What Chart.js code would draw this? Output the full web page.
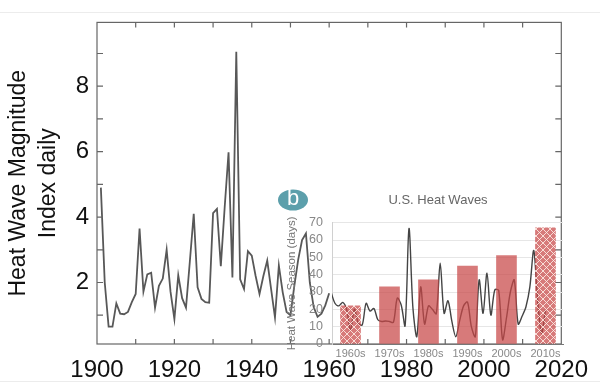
<!DOCTYPE html>
<html>
<head>
<meta charset="utf-8">
<script src="https://cdn.jsdelivr.net/npm/chart.js@4.4.1/dist/chart.umd.min.js"></script>
<style>
  html, body { margin: 0; padding: 0; background: #fff; }
  #wrap { position: relative; width: 600px; height: 391px; overflow: hidden; }
  #main { position: absolute; left: 0; top: 0; }
  #inset { position: absolute; left: 270px; top: 180px; }
  .rule { position: absolute; left: 0; width: 600px; height: 1px; background: #ececec; }
</style>
</head>
<body>
<div id="wrap">
  <div class="rule" style="top:12px"></div>
  <div class="rule" style="top:381px"></div>
  <canvas id="main" width="600" height="391"></canvas>
  <canvas id="inset" width="330" height="211"></canvas>
</div>
<script>
// --- Data: main panel (heat wave magnitude index, daily) ---
const magYears = [1901, 1902, 1903, 1904, 1905, 1906, 1907, 1908, 1909, 1910,
  1911, 1912, 1913, 1914, 1915, 1916, 1917, 1918, 1919, 1920,
  1921, 1922, 1923, 1924, 1925, 1926, 1927, 1928, 1929, 1930,
  1931, 1932, 1933, 1934, 1935, 1936, 1937, 1938, 1939, 1940,
  1941, 1942, 1943, 1944, 1945, 1946, 1947, 1948, 1949, 1950,
  1951, 1952, 1953, 1954, 1955, 1956, 1957, 1958, 1959, 1960];
const magValues = [4.9, 2.0, 0.65, 0.65, 1.36, 1.05, 1.03, 1.1, 1.4, 1.65,
  3.65, 1.72, 2.25, 2.3, 1.23, 1.9, 2.12, 3.0, 1.72, 0.88,
  2.22, 1.52, 1.23, 2.65, 4.1, 1.85, 1.5, 1.4, 1.38, 4.12,
  4.25, 2.5, 4.3, 5.98, 2.15, 9.05, 2.1, 1.8, 2.96, 2.82,
  2.2, 1.65, 2.2, 2.67, 1.8, 0.93, 2.52, 1.7, 1.1, 1.0,
  1.9, 2.7, 3.3, 3.5, 2.0, 1.25, 0.95, 1.05, 1.3, 1.67];
const yearTicks = [1900, 1920, 1940, 1960, 1980, 2000, 2020];
const magTicks = [2, 4, 6, 8];

// --- Data: inset (U.S. heat wave season, days) ---
const seasonYears = [1960, 1961, 1962, 1963, 1964, 1965, 1966, 1967, 1968, 1969,
  1970, 1971, 1972, 1973, 1974, 1975, 1976, 1977, 1978, 1979,
  1980, 1981, 1982, 1983, 1984, 1985, 1986, 1987, 1988, 1989,
  1990, 1991, 1992, 1993, 1994, 1995, 1996, 1997, 1998, 1999,
  2000, 2001, 2002, 2003, 2004, 2005, 2006, 2007, 2008, 2009,
  2010, 2011, 2012, 2013, 2014, 2015];
const seasonDays = [30, 23.5, 22, 24, 20, 8, 20, 12, 11, 23.5,
  19, 20.5, 14, 13, 13.3, 13, 12.5, 26.5, 22.5, 10.5,
  66.7, 21, 4.2, 33, 11.5, 22, 20, 17.5, 46.6, 17.7,
  25, 13, 4.2, 13.5, 22, 24.2, 10, 4.2, 37, 17.7,
  40.8, 16.7, 31.2, 31, 2.5, 15, 30, 37, 11.5, 16,
  21.5, 33, 54, 25, 6.2, 19.6];
const decadeMid = [1965, 1975, 1985, 1995, 2005, 2015];
const decadeLabels = ["1960s", "1970s", "1980s", "1990s", "2000s", "2010s"];
const decadeDays = [22, 33, 37, 45, 51, 67];
const dayTicks = [0, 10, 20, 30, 40, 50, 60, 70];

const FONT = "'Liberation Sans', Arial, Helvetica, sans-serif";

// --- Main panel frame with inward ticks ---
const frame = {
  id: "frame",
  afterDraw(chart) {
    const { ctx, chartArea: a, scales: { x, y } } = chart;
    ctx.save();
    ctx.strokeStyle = "#666";
    ctx.lineWidth = 1.2;
    ctx.strokeRect(a.left, a.top, a.right - a.left, a.bottom - a.top);
    ctx.beginPath();
    for (let yr = 1910; yr < 2020; yr += 10) {
      const px = x.getPixelForValue(yr);
      ctx.moveTo(px, a.bottom); ctx.lineTo(px, a.bottom - 5);
      ctx.moveTo(px, a.top); ctx.lineTo(px, a.top + 5);
    }
    for (let v = 1; v <= 9; v++) {
      const py = y.getPixelForValue(v);
      ctx.moveTo(a.left, py); ctx.lineTo(a.left + 6, py);
      ctx.moveTo(a.right, py); ctx.lineTo(a.right - 6, py);
    }
    ctx.stroke();
    ctx.restore();
  }
};

new Chart(document.getElementById("main"), {
  type: "line",
  data: {
    datasets: [{
      data: magYears.map((yr, i) => ({ x: yr, y: magValues[i] })),
      borderColor: "#585858",
      borderWidth: 1.8,
      pointRadius: 0,
      tension: 0
    }]
  },
  options: {
    responsive: false,
    animation: false,
    events: [],
    layout: { padding: { top: 15, right: 36, left: 0, bottom: 0 } },
    plugins: { legend: { display: false }, tooltip: { enabled: false } },
    scales: {
      x: {
        type: "linear", min: 1900, max: 2020,
        grid: { display: false, drawTicks: false }, border: { display: false },
        afterBuildTicks: s => { s.ticks = yearTicks.map(v => ({ value: v })); },
        afterFit: s => { s.height = 47; },
        ticks: { color: "#111", padding: 12, maxRotation: 0, autoSkip: false,
          font: { family: FONT, size: 24 }, callback: v => String(v) }
      },
      y: {
        min: 0.12, max: 9.95,
        grid: { display: false, drawTicks: false }, border: { display: false },
        afterBuildTicks: s => { s.ticks = magTicks.map(v => ({ value: v })); },
        afterFit: s => { s.width = 97; },
        ticks: { color: "#111", padding: 8, font: { family: FONT, size: 24 } },
        title: {
          display: true, text: ["Heat Wave Magnitude", "Index daily"], color: "#111",
          padding: { top: 4, bottom: 0 }, font: { family: FONT, size: 23, lineHeight: 1.3 }
        }
      }
    }
  },
  plugins: [frame]
});

// --- Inset: hatch pattern for the 1960s and 2010s bars ---
function hatch() {
  const c = document.createElement("canvas");
  c.width = 7; c.height = 7;
  const g = c.getContext("2d");
  g.fillStyle = "rgba(200,70,70,0.72)";
  g.fillRect(0, 0, 7, 7);
  g.strokeStyle = "rgba(255,238,232,0.85)";
  g.lineWidth = 1;
  g.beginPath();
  g.moveTo(0, 0); g.lineTo(7, 7);
  g.moveTo(7, 0); g.lineTo(0, 7);
  g.stroke();
  return g.createPattern(c, "repeat");
}
const hatched = hatch();
const solid = "rgba(200,70,70,0.72)";

// badge "b" and the inset title
const badge = {
  id: "badge",
  afterDraw(chart) {
    const ctx = chart.ctx;
    ctx.save();
    ctx.fillStyle = "#5c9fab";
    ctx.beginPath();
    ctx.ellipse(23, 20, 15, 10.5, 0, 0, Math.PI * 2);
    ctx.fill();
    ctx.fillStyle = "#fff";
    ctx.font = "22px " + FONT;
    ctx.textAlign = "center";
    ctx.textBaseline = "middle";
    ctx.fillText("b", 23, 19);
    ctx.fillStyle = "#666";
    ctx.font = "13px " + FONT;
    ctx.fillText("U.S. Heat Waves", 168, 20);
    ctx.restore();
  }
};

new Chart(document.getElementById("inset"), {
  type: "bar",
  data: {
    datasets: [{
      type: "bar",
      data: decadeMid.map((yr, i) => ({ x: yr, y: decadeDays[i] })),
      backgroundColor: [hatched, solid, solid, solid, solid, hatched],
      borderWidth: 0,
      barThickness: 20,
      order: 1
    }, {
      type: "line",
      data: seasonYears.map((yr, i) => ({ x: yr, y: seasonDays[i] })),
      borderColor: "#444",
      borderWidth: 1.4,
      pointRadius: 0,
      tension: 0.3,
      order: 2
    }]
  },
  options: {
    responsive: false,
    animation: false,
    events: [],
    layout: { padding: { top: 42.7, right: 37, left: 0, bottom: 0 } },
    plugins: { legend: { display: false }, tooltip: { enabled: false } },
    scales: {
      x: {
        type: "linear", min: 1960.25, max: 2019.5, offset: false,
        grid: { display: false, drawTicks: false },
        border: { display: true, color: "#777", width: 1 },
        afterBuildTicks: s => { s.ticks = decadeMid.map(v => ({ value: v })); },
        afterFit: s => { s.height = 47; },
        ticks: { color: "#888", padding: 3, maxRotation: 0, autoSkip: false,
          font: { family: FONT, size: 11 }, callback: (v, i) => decadeLabels[i] }
      },
      y: {
        min: 0, max: 70,
        grid: { color: "#e6e6e6", drawTicks: false },
        border: { display: true, color: "#d0d0d0" },
        afterBuildTicks: s => { s.ticks = dayTicks.map(v => ({ value: v })); },
        afterFit: s => { s.width = 62; },
        ticks: { color: "#888", padding: 9, autoSkip: false, font: { family: FONT, size: 12.5 } },
        title: {
          display: true, text: "Heat Wave Season (days)", color: "#777",
          padding: { top: 15, bottom: 0 }, font: { family: FONT, size: 11.5 }
        }
      }
    }
  },
  plugins: [badge]
});
</script>
</body>
</html>
